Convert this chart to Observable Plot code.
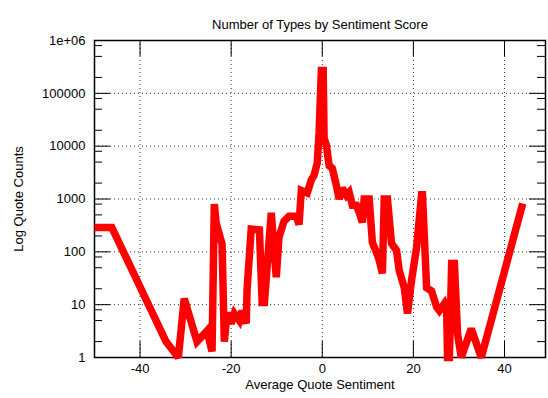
<!DOCTYPE html>
<html>
<head>
<meta charset="utf-8">
<script src="https://cdn.jsdelivr.net/npm/d3@7"></script>
<script src="https://cdn.jsdelivr.net/npm/@observablehq/plot@0.6"></script>
<style>
  html, body { margin: 0; padding: 0; background: #fff; }
  svg { font-family: "Liberation Sans", Arial, Helvetica, sans-serif; }
</style>
</head>
<body>
<div id="chart"></div>
<script>
const titleText = "Number of Types by Sentiment Score";
const xLabel = "Average Quote Sentiment";
const yLabel = "Log Quote Counts";

const sentiment = [-50, -46.2, -34.3, -31.6, -30.3, -27.5, -25.9, -25.3, -24.2, -23.7, -23.3, -22.0, -21.5, -20.9, -20.0, -19.3, -18.2, -17.6, -16.7, -16.5, -15.6, -13.8, -13.2, -12.7, -11.2, -10.1, -9.5, -8.4, -7.3, -5.7, -5.1, -4.6, -3.3, -2.4, -1.8, -1.1, -0.7, -0.2, 0.2, 0.4, 0.9, 1.5, 2.2, 3.1, 3.7, 4.4, 5.3, 5.9, 6.6, 7.5, 8.1, 8.8, 9.2, 10.3, 11.0, 11.9, 12.5, 13.2, 13.6, 14.3, 15.2, 16.3, 16.9, 18.0, 18.7, 19.6, 20.7, 21.8, 22.0, 22.9, 24.0, 25.1, 25.7, 26.8, 27.3, 27.5, 27.9, 28.4, 29.0, 29.7, 30.5, 32.7, 34.9, 44.0];
const counts = [290, 290, 2, 1, 13, 2, 2.8, 3.2, 1.3, 800, 350, 140, 2, 7, 4.4, 6.8, 5, 7.7, 4.4, 20, 270, 260, 11, 11, 550, 33, 190, 380, 470, 470, 330, 1450, 1300, 2300, 2800, 4800, 18000, 270000, 270000, 14000, 10500, 4300, 3800, 1800, 1000, 1600, 1170, 1340, 760, 760, 560, 360, 1000, 1000, 150, 97, 70, 39, 1000, 1000, 145, 106, 44, 21, 6.8, 29, 120, 1200, 1200, 21, 18, 9, 7.7, 10.5, 8, 1, 1, 60, 60, 2.8, 1, 3.5, 1, 820];

const xTicks = [-40, -20, 0, 20, 40];
const yTicks = [1, 10, 100, 1000, 10000, 100000, 1000000];
const yTickLabels = ["1", "10", "100", "1000", "10000", "100000", "1e+06"];
const yMinorMult = [2, 5, 8];

const data = sentiment.map((s, i) => ({s, c: counts[i]}));
const yMinor = [];
for (const t of yTicks.slice(0, -1)) for (const m of yMinorMult) yMinor.push(t * m);

const W = 548, H = 398;
const mL = 94, mR = 3, mT = 40, mB = 41;
const fw = W - mL - mR, fh = H - mT - mB;
const fs = 13;

const chart = Plot.plot({
  width: W, height: H,
  marginLeft: mL, marginRight: mR, marginTop: mT, marginBottom: mB,
  x: {domain: [-50, 49], axis: null},
  y: {type: "log", domain: [1, 1e6], axis: null},
  marks: [
    Plot.ruleX(xTicks, {x: d => d, stroke: "#000", strokeOpacity: 0.8, strokeDasharray: "1,3"}),
    Plot.ruleY(yTicks.slice(1, -1), {y: d => d, stroke: "#000", strokeOpacity: 0.8, strokeDasharray: "1,3"}),
    Plot.frame({stroke: "#000", strokeWidth: 1.5}),
    Plot.line(data, {x: "s", y: "c", stroke: "#ff0000", strokeWidth: 7.5, strokeLinejoin: "miter", strokeMiterlimit: 2.5, strokeLinecap: "butt"}),
    Plot.tickX(xTicks, {x: d => d, insetTop: fh - 16, stroke: "#000"}),
    Plot.tickX(xTicks, {x: d => d, insetBottom: fh - 16, stroke: "#000"}),
    Plot.tickY(yTicks, {y: d => d, insetRight: fw - 16, stroke: "#000"}),
    Plot.tickY(yTicks, {y: d => d, insetLeft: fw - 16, stroke: "#000"}),
    Plot.tickY(yMinor, {y: d => d, insetRight: fw - 8, stroke: "#000"}),
    Plot.tickY(yMinor, {y: d => d, insetLeft: fw - 8, stroke: "#000"}),
    Plot.text(xTicks, {x: d => d, frameAnchor: "bottom", dy: 15, text: d => String(d), fontSize: fs, fill: "#000"}),
    Plot.text(yTicks, {y: d => d, frameAnchor: "left", dx: -9, textAnchor: "end", text: (d, i) => yTickLabels[i], fontSize: fs, fill: "#000"}),
    Plot.text([titleText], {frameAnchor: "top", dy: -21, fontSize: fs, fill: "#000"}),
    Plot.text([xLabel], {frameAnchor: "bottom", dy: 31, fontSize: fs, fill: "#000"}),
    Plot.text([yLabel], {frameAnchor: "left", dx: -76, textAnchor: "middle", rotate: -90, fontSize: fs, fill: "#000"})
  ]
});
document.getElementById("chart").appendChild(chart);
</script>
</body>
</html>
